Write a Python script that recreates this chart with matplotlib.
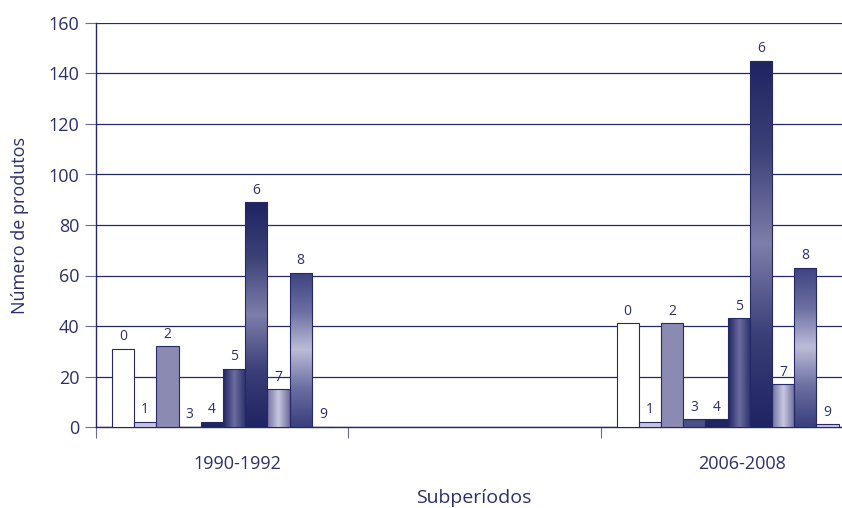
import numpy as np
import matplotlib.pyplot as plt
from matplotlib.colors import LinearSegmentedColormap

# dados
periodos = ['1990-1992', '2006-2008']
classes = ['0', '1', '2', '3', '4', '5', '6', '7', '8', '9']
v_1990 = [31, 2, 32, 0, 2, 23, 89, 15, 61, 0]
v_2006 = [41, 2, 41, 3, 3, 43, 145, 17, 63, 1]

navy = '#252a66'
txt = '#2b2f6c'
plt.rcParams['font.family'] = ['Open Sans', 'DejaVu Sans']

# preenchimento de cada classe: (tipo, cores)
estilos = [
    ('flat', ['#ffffff']),
    ('flat', ['#c4c4de']),
    ('flat', ['#8a8ab2']),
    ('flat', ['#4a4f85']),
    ('flat', ['#1f2462']),
    ('h', ['#1f2462', '#6c6c9e', '#2a2f6a']),
    ('v', ['#1f2462', '#3d4278', '#7e7eaa', '#3a3f78', '#1f2462']),
    ('h', ['#7070a2', '#c8c8e0', '#6a6a9e']),
    ('v', ['#3e4380', '#6a6ea0', '#bcbcd8', '#6a6ea0', '#3a3f7e']),
    ('flat', ['#c8c8e0']),
]

fig = plt.figure(figsize=(8.42, 5.08), dpi=100)
ax = fig.add_axes([96 / 842, 81 / 508, 757 / 842, 404 / 508])

larg = 0.088
inicio = 0.063

for g, valores in enumerate([v_1990, v_2006]):
    base = 2 * g + inicio
    for i, v in enumerate(valores):
        x0 = base + i * larg
        tipo, cores = estilos[i]
        if tipo == 'flat':
            ax.bar(x0, v, width=larg, align='edge', color=cores[0],
                   edgecolor=navy, linewidth=0.8, zorder=3)
        else:
            cmap = LinearSegmentedColormap.from_list('c%d' % i, cores)
            ret = ax.bar(x0, v, width=larg, align='edge', color='none',
                         edgecolor=navy, linewidth=0.8, zorder=4)[0]
            grad = np.linspace(0, 1, 256)
            img = grad.reshape(1, -1) if tipo == 'h' else grad.reshape(-1, 1)
            im = ax.imshow(img, cmap=cmap, aspect='auto', origin='upper',
                           extent=[x0, x0 + larg, 0, v], zorder=3)
            im.set_clip_path(ret)
        ax.text(x0 + larg / 2, v + 1.8, classes[i], ha='center', va='bottom',
                fontsize=10, color=txt, zorder=5)

ax.set_xlim(0, 3)
ax.set_ylim(0, 160)
ax.set_yticks(range(0, 161, 20))
ax.set_xticks([0, 1, 2, 3])
ax.set_xticklabels([])
ax.yaxis.grid(True, color=navy, linewidth=0.9, zorder=0)
ax.set_axisbelow(True)
for s in ['top', 'right']:
    ax.spines[s].set_visible(False)
for s in ['left', 'bottom']:
    ax.spines[s].set_color(navy)
    ax.spines[s].set_linewidth(1.0)
ax.tick_params(axis='y', colors=txt, labelsize=13, length=8, color='#6a6a9a', pad=4)
ax.tick_params(axis='x', length=8, color='#6a6a9a')
ax.tick_params(axis='y', labelcolor=txt)

for g, p in enumerate(periodos):
    ax.text(2 * g + 0.56, -11, p, ha='center', va='top', fontsize=13, color=txt)

fig.text(474 / 842, 10 / 508, 'Subperíodos', ha='center', va='center',
         fontsize=14, color=txt)
fig.text(20 / 842, (508 - 225) / 508, 'Número de produtos', ha='center',
         va='center', rotation=90, fontsize=13, color=txt)

fig.savefig('out.png', dpi=100)
